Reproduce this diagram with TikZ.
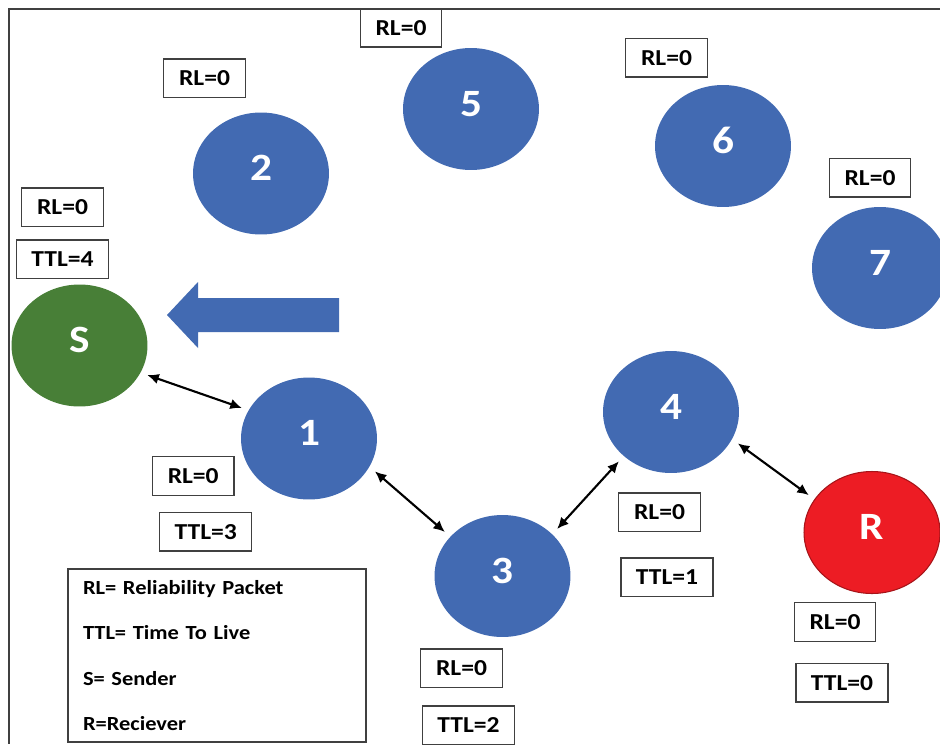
\documentclass[tikz,border=0pt]{standalone}
\usepackage{fontspec}
\setmainfont[FakeStretch=1.12]{Carlito}
\usetikzlibrary{shapes.geometric,positioning,arrows.meta}

\definecolor{nodeblue}{RGB}{66,106,178}
\definecolor{sendgreen}{RGB}{72,127,55}
\definecolor{recvred}{RGB}{237,28,36}

\tikzset{
  host/.style={ellipse, fill=nodeblue, text=white, inner sep=0pt,
    font=\fontsize{22}{26}\selectfont\bfseries,
    text height=14pt, text depth=5.6pt,
    minimum width=2.72cm, minimum height=2.44cm},
  sender/.style={host, fill=sendgreen},
  receiver/.style={host, fill=recvred, draw=recvred!70!black, line width=0.6pt},
  rlbox/.style={draw=black!75, line width=0.8pt, inner sep=0pt,
    font=\fontsize{13}{15}\selectfont\bfseries,
    minimum width=1.63cm, minimum height=0.77cm},
  ttlbox/.style={rlbox, minimum width=1.84cm},
  link/.style={<->, >={Latex[length=6.5pt,width=6pt]}, line width=1.2pt,
    shorten >=4pt, shorten <=4pt},
  keybox/.style={draw=black!75, line width=0.8pt, align=left,
    font=\fontsize{11.4}{25.8}\selectfont\bfseries,
    text width=5.36cm, inner xsep=0.3cm,
    minimum width=5.96cm, minimum height=3.46cm}
}

\begin{document}
\begin{tikzpicture}[x=0.02cm, y=-0.02cm]
  \useasboundingbox (0,0) rectangle (940,744);
  \draw[black!75, line width=1pt] (940,9) -- (9,9) -- (9,744);

  %Define nodes
  \node[sender]   (s)  at (79.5,345.5) {S};
  \node[host]     (n1) at (309,438.5) {1};
  \node[host]     (n2) at (261,173.5) {2};
  \node[host]     (n3) at (502.5,576) {3};
  \node[host]     (n4) at (671,412) {4};
  \node[host]     (n5) at (471,109) {5};
  \node[host]     (n6) at (723,146) {6};
  \node[host]     (n7) at (880,268) {7};
  \node[receiver] (r)  at (872,532.5) {R};

  % Packet values
  \node[ttlbox, above=0.1cm of s, xshift=-0.34cm] (sttl) {TTL=4};
  \node[rlbox, above=0.24cm of sttl] (srl) {RL=0};
  \node[rlbox, left=0.12cm of n1, yshift=-0.75cm] (rl1) {RL=0};
  \node[ttlbox, below=0.32cm of rl1, xshift=0.25cm] (ttl1) {TTL=3};
  \node[rlbox, above=0.28cm of n2, xshift=-1.13cm] (rl2) {RL=0};
  \node[rlbox, below=0.22cm of n3, xshift=-0.82cm] (rl3) {RL=0};
  \node[ttlbox, below=0.34cm of rl3, xshift=0.14cm] (ttl3) {TTL=2};
  \node[rlbox, below=0.38cm of n4, xshift=-0.23cm] (rl4) {RL=0};
  \node[ttlbox, below=0.5cm of rl4, xshift=0.15cm] (ttl4) {TTL=1};
  \node[rlbox, above=0cm of n5, xshift=-1.4cm] (rl5) {RL=0};
  \node[rlbox, above=0.14cm of n6, xshift=-1.13cm] (rl6) {RL=0};
  \node[rlbox, above=0.18cm of n7, xshift=-0.2cm] (rl7) {RL=0};
  \node[rlbox, below=0.16cm of r, xshift=-0.74cm] (rlr) {RL=0};
  \node[ttlbox, below=0.42cm of rlr, xshift=0.14cm] (ttlr) {TTL=0};

  % Key
  \node[keybox] (key) at (217,655.5)
    {RL= Reliability Packet\\TTL= Time To Live\\S= Sender\\R=Reciever};

  % Connect the nodes
  \draw[link] (s.-24) -- (n1.155);
  \draw[link] (n1.-25) -- (n3.143);
  \draw[link] (n3.40) -- (n4.223);
  \draw[link] (n4.-24) -- (r.150);

  % Direction of the reply
  \fill[nodeblue] (339,298) -- (198,298) -- (198,282) -- (167,315)
    -- (198,348) -- (198,332) -- (339,332) -- cycle;

\end{tikzpicture}
\end{document}
